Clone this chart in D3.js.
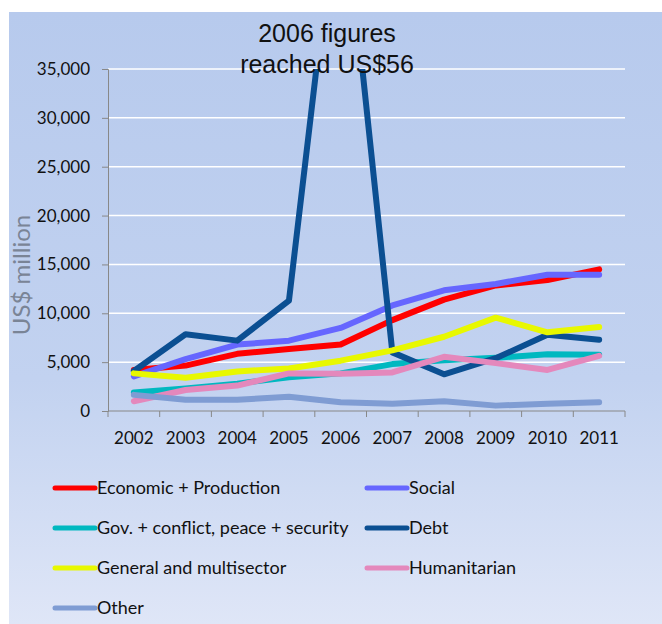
<!DOCTYPE html>
<html>
<head>
<meta charset="utf-8">
<script src="https://cdn.jsdelivr.net/npm/d3@7"></script>
<style>
  body { margin: 0; background: #fff; }
  svg { display: block; }
</style>
</head>
<body>
<div id="chart"></div>
<script>
// data (US$ million)
const years = ["2002", "2003", "2004", "2005", "2006", "2007", "2008", "2009", "2010", "2011"];

const economic     = [4200, 4650, 5850, 6350, 6800, 9300, 11400, 12850, 13400, 14500];
const social       = [3550, 5300, 6800, 7200, 8500, 10800, 12350, 13000, 13950, 13950];
const governance   = [1900, 2300, 2800, 3450, 3850, 4800, 5200, 5450, 5800, 5750];
const debt         = [4100, 7850, 7200, 11300, 56000, 6000, 3750, 5400, 7800, 7300];
const general      = [3850, 3400, 4050, 4350, 5150, 6200, 7600, 9550, 8050, 8600];
const humanitarian = [1000, 2150, 2600, 3850, 3800, 3950, 5550, 4900, 4200, 5650];
const other        = [1650, 1150, 1150, 1450, 900, 750, 1000, 550, 750, 900];

const seriesNames  = ["Economic + Production", "Social", "Gov. + conflict, peace + security",
                      "Debt", "General and multisector", "Humanitarian", "Other"];
const seriesValues = [economic, social, governance, debt, general, humanitarian, other];
const seriesColors = ["#ff0000", "#6666ff", "#00b8c0", "#0b4f92", "#e8f800", "#e488bc", "#7f9cd3"];

const yTicks = [0, 5000, 10000, 15000, 20000, 25000, 30000, 35000];
const titleLines = ["2006 figures", "reached US$56"];

const W = 662, H = 624;
const margin = {left: 108, right: 37, top: 69, bottom: 213};
const LINE_W = 6;
const FONT = "Lato, 'Open Sans', sans-serif";

const svg = d3.select("#chart").append("svg")
    .attr("width", W)
    .attr("height", H);

const defs = svg.append("defs");
const grad = defs.append("linearGradient")
    .attr("id", "bg")
    .attr("x1", 0).attr("y1", 0).attr("x2", 0).attr("y2", 1);
grad.append("stop").attr("offset", "0%").attr("stop-color", "#b7caed");
grad.append("stop").attr("offset", "60%").attr("stop-color", "#c2d2f0");
grad.append("stop").attr("offset", "100%").attr("stop-color", "#dfe6f7");

defs.append("clipPath").attr("id", "plot-clip")
  .append("rect")
    .attr("x", margin.left - 10)
    .attr("y", margin.top)
    .attr("width", W - margin.left - margin.right + 20)
    .attr("height", H - margin.top - margin.bottom + 10);

svg.append("rect")
    .attr("x", 9).attr("y", 12)
    .attr("width", W - 9).attr("height", H - 12)
    .attr("fill", "url(#bg)");

const x = d3.scaleBand()
    .domain(years)
    .range([margin.left, W - margin.right]);

const y = d3.scaleLinear()
    .domain([0, 35000])
    .range([H - margin.bottom, margin.top]);

// gridlines
svg.append("g")
    .selectAll("line")
    .data(yTicks.filter(d => d > 0))
    .enter().append("line")
      .attr("x1", margin.left)
      .attr("x2", W - margin.right)
      .attr("y1", d => y(d))
      .attr("y2", d => y(d))
      .attr("stroke", "#ffffff")
      .attr("stroke-width", 1.5);

// y axis
const yAxis = svg.append("g")
    .attr("transform", `translate(${margin.left},0)`)
    .call(d3.axisLeft(y).tickValues(yTicks).tickSize(6).tickPadding(12)
        .tickFormat(d3.format(",")));
yAxis.select(".domain").attr("stroke", "#888");
yAxis.selectAll(".tick line").attr("stroke", "#888");
yAxis.selectAll("text")
    .attr("font-family", FONT)
    .attr("font-size", 17)
    .attr("fill", "#111");

// x axis, ticks sit between the categories
const xAxis = svg.append("g")
    .attr("transform", `translate(0,${H - margin.bottom})`);
xAxis.append("line")
    .attr("x1", margin.left).attr("x2", W - margin.right)
    .attr("stroke", "#888");
xAxis.selectAll(".xtick")
    .data(years.concat(["end"]))
    .enter().append("line")
      .attr("class", "xtick")
      .attr("x1", (d, i) => i < years.length ? x(d) : x.range()[1])
      .attr("x2", (d, i) => i < years.length ? x(d) : x.range()[1])
      .attr("y1", 0).attr("y2", 6)
      .attr("stroke", "#888");
xAxis.selectAll(".xlabel")
    .data(years)
    .enter().append("text")
      .attr("class", "xlabel")
      .attr("x", d => x(d) + x.bandwidth() / 2)
      .attr("y", 33)
      .attr("text-anchor", "middle")
      .attr("font-family", FONT)
      .attr("font-size", 17)
      .attr("fill", "#111")
      .text(d => d);

// y axis title
svg.append("text")
    .attr("transform", `translate(30,${(y(0) + y(35000)) / 2 + 35}) rotate(-90)`)
    .attr("text-anchor", "middle")
    .attr("font-family", FONT)
    .attr("font-size", 24)
    .attr("fill", "#7a8496")
    .text("US$ million");

// the lines
const line = d3.line()
    .x((d, i) => x(years[i]) + x.bandwidth() / 2)
    .y(d => y(d));

svg.append("g")
    .attr("clip-path", "url(#plot-clip)")
    .selectAll("path")
    .data(seriesValues)
    .enter().append("path")
      .attr("d", line)
      .attr("fill", "none")
      .attr("stroke", (d, i) => seriesColors[i])
      .attr("stroke-width", LINE_W)
      .attr("stroke-linejoin", "round")
      .attr("stroke-linecap", "round");

// annotation at the top
svg.append("g")
    .selectAll("text")
    .data(titleLines)
    .enter().append("text")
      .attr("x", 327)
      .attr("y", (d, i) => 42 + i * 31)
      .attr("text-anchor", "middle")
      .attr("font-family", "'Liberation Sans', Arial, sans-serif")
      .attr("font-size", 25)
      .attr("fill", "#111")
      .text(d => d);

// legend, two columns
const legend = svg.append("g")
    .selectAll("g")
    .data(seriesNames)
    .enter().append("g")
      .attr("transform", (d, i) => `translate(${i % 2 === 0 ? 55 : 367},${488 + Math.floor(i / 2) * 40})`);
legend.append("line")
    .attr("x1", 0).attr("x2", 40)
    .attr("stroke", (d, i) => seriesColors[i])
    .attr("stroke-width", 5)
    .attr("stroke-linecap", "round");
legend.append("text")
    .attr("x", 42)
    .attr("dy", "0.35em")
    .attr("font-family", FONT)
    .attr("font-size", 18)
    .attr("fill", "#111")
    .text(d => d);
</script>
</body>
</html>
